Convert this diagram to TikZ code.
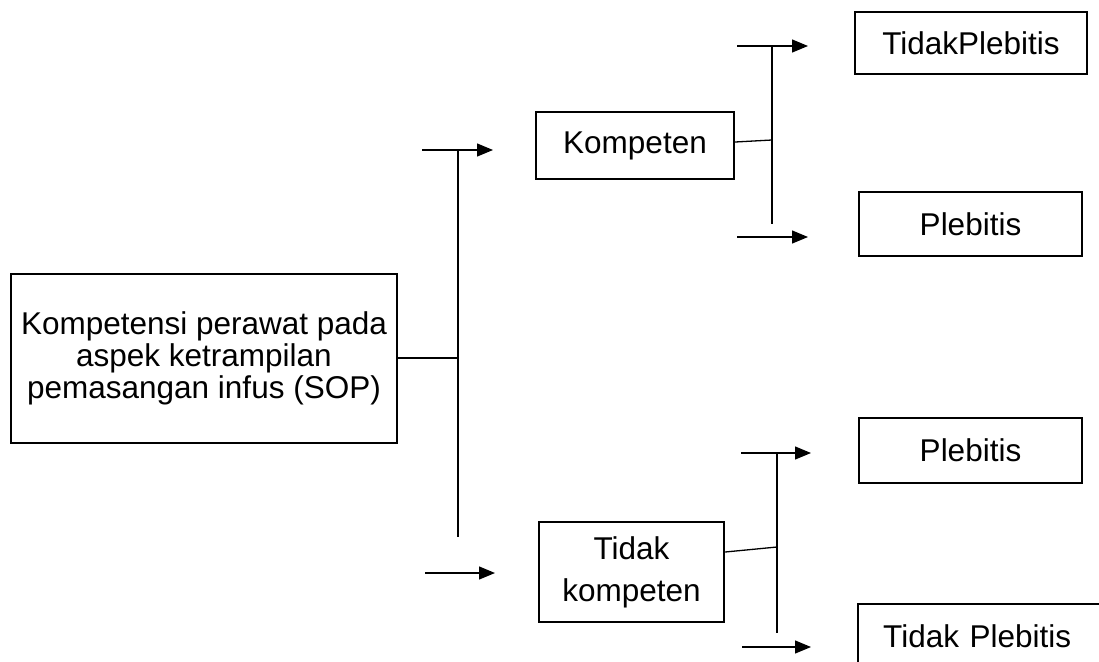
\documentclass[tikz,border=0pt]{standalone}
\usepackage{fontspec}
\setmainfont{Liberation Sans}
\usetikzlibrary{arrows.meta}
\begin{document}
\begin{tikzpicture}[x=1pt,y=-1pt,
  box/.style={draw, line width=2.4pt, inner sep=0pt, align=center,
    font=\fontsize{31.5}{32}\selectfont},
  conn/.style={line width=1.3pt},
  arr/.style={line width=1.3pt, -{Triangle[length=16pt,width=13pt]}}]
\useasboundingbox (0,0) rectangle (1099,661);
\clip (0,0) rectangle (1099,661);
% boxes
\node[box, minimum width=386pt, minimum height=169pt] (main) at (204,358.5)
  {Kompetensi perawat pada\\aspek ketrampilan\\pemasangan infus (SOP)};
\node[box, minimum width=198pt, minimum height=67pt] (komp) at (635,145.5) {Kompeten};
\node[box, minimum width=185pt, minimum height=100pt,
  font=\fontsize{31.5}{42}\selectfont] (tkomp) at (631.5,572) {Tidak\\kompeten};
\node[box, minimum width=232pt, minimum height=62pt] (tp1) at (971,43) {TidakPlebitis};
\node[box, minimum width=223pt, minimum height=64pt] (p1) at (970.5,224) {Plebitis};
\node[box, minimum width=223pt, minimum height=65pt] (p2) at (970.5,450.5) {Plebitis};
\node[box, anchor=north west, minimum width=270pt, minimum height=64pt,
  text width=220pt, inner xsep=25pt, align=left] (tp2) at (857,603) {Tidak Plebitis};
% first split
\coordinate (j1) at (458,358);
\coordinate (v1t) at (458,150);
\coordinate (v1b) at (458,537);
\coordinate (a1s) at (422,150);
\coordinate (a1e) at (493,150);
\coordinate (a2s) at (425,573);
\coordinate (a2e) at (495,573);
\draw[conn] (main.east |- j1) -- (j1);
\draw[conn] (v1t) -- (v1b);
\draw[arr] (a1s) -- (a1e);
\draw[arr] (a2s) -- (a2e);
% kompeten split
\coordinate (j2) at (772,140);
\coordinate (v2t) at (772,46);
\coordinate (v2b) at (772,224);
\coordinate (b1s) at (737,46);
\coordinate (b1e) at (808,46);
\coordinate (b2s) at (737,237);
\coordinate (b2e) at (808,237);
\draw[conn] ([yshift=3.5pt]komp.east) -- (j2);
\draw[conn] (v2t) -- (v2b);
\draw[arr] (b1s) -- (b1e);
\draw[arr] (b2s) -- (b2e);
% tidak kompeten split
\coordinate (j3) at (777,547);
\coordinate (v3t) at (777,454);
\coordinate (v3b) at (777,633);
\coordinate (c1s) at (741,453);
\coordinate (c1e) at (811,453);
\coordinate (c2s) at (742,647);
\coordinate (c2e) at (811,647);
\draw[conn] ([yshift=20pt]tkomp.east) -- (j3);
\draw[conn] (v3t) -- (v3b);
\draw[arr] (c1s) -- (c1e);
\draw[arr] (c2s) -- (c2e);
\end{tikzpicture}
\end{document}
